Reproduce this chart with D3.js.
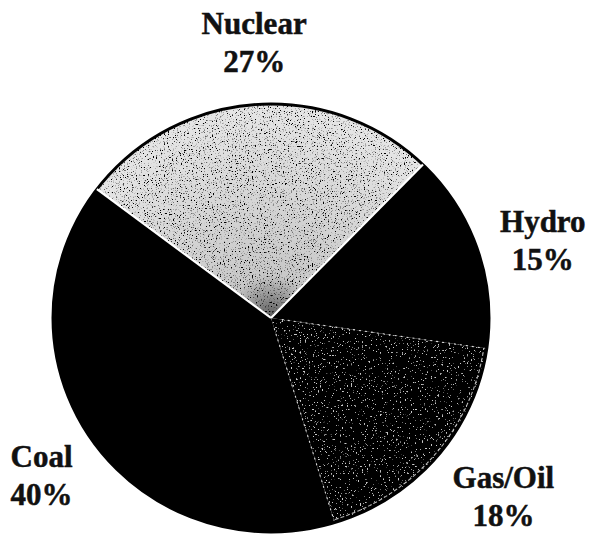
<!DOCTYPE html>
<html>
<head>
<meta charset="utf-8">
<script src="https://cdn.jsdelivr.net/npm/d3@7"></script>
<style>
  html, body { margin: 0; padding: 0; background: #fff; }
  .label { font-family: "Liberation Serif", "Times New Roman", serif; font-weight: bold; font-size: 31px; fill: #111; stroke: #111; stroke-width: 0.5px; }
</style>
</head>
<body>
<div class="chart"></div>
<script>
// Data
var sources = ["Nuclear", "Hydro", "Gas/Oil", "Coal"];
var shares = [27, 15, 18, 40];
var shareLabels = ["27%", "15%", "18%", "40%"];

var svgWidth = 591;
var svgHeight = 535;

var cx = 271, cy = 318;
var rx = 218, ry = 214;

var svg = d3.select(".chart")
  .append("svg")
  .attr("width", svgWidth)
  .attr("height", svgHeight);

var defs = svg.append("defs");

// light stipple for nuclear, darker towards the centre
var grad = defs.append("radialGradient")
  .attr("id", "nucGrad")
  .attr("gradientUnits", "userSpaceOnUse")
  .attr("cx", 0).attr("cy", 0).attr("r", rx);
grad.append("stop").attr("offset", "0%").attr("stop-color", "#5a5a5a");
grad.append("stop").attr("offset", "20%").attr("stop-color", "#c8c8c8");
grad.append("stop").attr("offset", "100%").attr("stop-color", "#e6e6e6");

var f1 = defs.append("filter").attr("id", "darkDots")
  .attr("x", 0).attr("y", 0).attr("width", 1).attr("height", 1);
f1.append("feTurbulence").attr("type", "fractalNoise").attr("baseFrequency", 0.75)
  .attr("numOctaves", 2).attr("seed", 4).attr("result", "n");
f1.append("feColorMatrix").attr("in", "n").attr("type", "matrix")
  .attr("values", "0 0 0 0 0  0 0 0 0 0  0 0 0 0 0  -7 0 0 0 2.95").attr("result", "dots");
f1.append("feComposite").attr("in", "dots").attr("in2", "SourceGraphic").attr("operator", "in").attr("result", "d2");
var m1 = f1.append("feMerge");
m1.append("feMergeNode").attr("in", "SourceGraphic");
m1.append("feMergeNode").attr("in", "d2");

// sparse light speckle for gas/oil
var f2 = defs.append("filter").attr("id", "lightDots")
  .attr("x", 0).attr("y", 0).attr("width", 1).attr("height", 1);
f2.append("feTurbulence").attr("type", "fractalNoise").attr("baseFrequency", 0.55)
  .attr("numOctaves", 2).attr("seed", 9).attr("result", "n");
f2.append("feColorMatrix").attr("in", "n").attr("type", "matrix")
  .attr("values", "0 0 0 0 0.6  0 0 0 0 0.6  0 0 0 0 0.6  12 0 0 0 -8.0").attr("result", "dots");
f2.append("feComposite").attr("in", "dots").attr("in2", "SourceGraphic").attr("operator", "in").attr("result", "d2");
var m2 = f2.append("feMerge");
m2.append("feMergeNode").attr("in", "SourceGraphic");
m2.append("feMergeNode").attr("in", "d2");

var fills = {
  "Nuclear": "url(#nucGrad)",
  "Hydro": "#000",
  "Gas/Oil": "#060606",
  "Coal": "#000"
};
var filters = { "Nuclear": "url(#darkDots)", "Gas/Oil": "url(#lightDots)" };

var table = sources.map(function (s, i) {
  return { name: s, value: shares[i], label: shareLabels[i] };
});

var startAngle = -53 * Math.PI / 180;
var pie = d3.pie()
  .sort(null)
  .value(d => d.value)
  .startAngle(startAngle)
  .endAngle(startAngle + 2 * Math.PI);

var arcs = pie(table);

var arc = d3.arc().innerRadius(0).outerRadius(rx);

// pie is drawn slightly squashed, as in the scan
var pieGroup = svg.append("g")
  .attr("transform", `translate(${cx}, ${cy}) scale(1, ${ry / rx})`);

pieGroup.selectAll("path.slice")
  .data(arcs)
  .enter()
  .append("path")
  .attr("class", "slice")
  .attr("d", arc)
  .attr("fill", d => fills[d.data.name])
  .attr("filter", d => filters[d.data.name] || null);

// outline
pieGroup.append("ellipse")
  .attr("rx", rx).attr("ry", rx)
  .attr("fill", "none")
  .attr("stroke", "#000")
  .attr("stroke-width", 3);

function edge(a) {
  return [Math.sin(a) * rx, -Math.cos(a) * rx];
}

// white edges of nuclear slice
var nuc = arcs[0];
[nuc.startAngle, nuc.endAngle].forEach(function (a) {
  var p = edge(a);
  pieGroup.append("line")
    .attr("x1", 0).attr("y1", 0)
    .attr("x2", p[0]).attr("y2", p[1])
    .attr("stroke", "#fff")
    .attr("stroke-width", 2.2);
});

// faint dotted edges of gas/oil slice
var gas = arcs[2];
[gas.startAngle, gas.endAngle].forEach(function (a) {
  var p = edge(a);
  pieGroup.append("line")
    .attr("x1", p[0] * 0.05).attr("y1", p[1] * 0.05)
    .attr("x2", p[0] * 0.99).attr("y2", p[1] * 0.99)
    .attr("stroke", "#ddd")
    .attr("stroke-width", 1.1)
    .attr("stroke-dasharray", "2,4");
});
pieGroup.append("path")
  .attr("d", d3.arc().innerRadius(rx - 3).outerRadius(rx - 3)(gas))
  .attr("fill", "none")
  .attr("stroke", "#bbb")
  .attr("stroke-width", 1.1)
  .attr("stroke-dasharray", "2,4");

// Labels outside the pie
var labelArc = d3.arc().innerRadius(285).outerRadius(285);
var nudge = {
  "Nuclear": [5, 8],
  "Hydro": [2, 14],
  "Gas/Oil": [16, -7],
  "Coal": [4, -6]
};

var labels = svg.selectAll("g.lbl")
  .data(arcs)
  .enter()
  .append("g")
  .attr("class", "lbl")
  .attr("transform", function (d) {
    var c = labelArc.centroid(d);
    var n = nudge[d.data.name];
    return `translate(${cx + c[0] + n[0]}, ${cy + c[1] + n[1]})`;
  });

labels.append("text")
  .attr("class", "label")
  .attr("text-anchor", "middle")
  .attr("y", -8)
  .text(d => d.data.name);

labels.append("text")
  .attr("class", "label")
  .attr("text-anchor", "middle")
  .attr("y", 30)
  .text(d => d.data.label);
</script>
</body>
</html>
